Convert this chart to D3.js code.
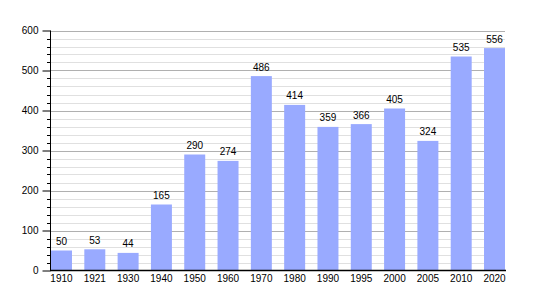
<!DOCTYPE html>
<html>
<head>
<meta charset="utf-8">
<script src="https://cdn.jsdelivr.net/npm/d3@7"></script>
<style>
  body { margin: 0; background: #fff; }
  text { font-family: "Liberation Sans", Arial, sans-serif; font-size: 10px; fill: #000; }
</style>
</head>
<body>
<div id="chart"></div>
<script>
var years = ['1910', '1921', '1930', '1940', '1950', '1960', '1970', '1980', '1990', '1995', '2000', '2005', '2010', '2020'];
var population = [50, 53, 44, 165, 290, 274, 486, 414, 359, 366, 405, 324, 535, 556];
var majorTicks = [0, 100, 200, 300, 400, 500, 600];

var width = 535, height = 300;
var plotLeft = 50, plotRight = 505, plotTop = 30.5, plotBottom = 270.5;

var svg = d3.select('#chart')
  .append('svg')
  .attr('width', width)
  .attr('height', height);

var x = d3.scaleBand()
  .domain(years)
  .range([plotLeft + 1, plotRight])
  .paddingInner(0.37)
  .paddingOuter(0);

var y = d3.scaleLinear()
  .domain([0, 600])
  .range([plotBottom, plotTop]);

var minorTicks = d3.range(0, 601, 20).filter(function (d) { return d % 100 !== 0; });

function py(d) { return Math.round(y(d)) + 0.5; }

// grid
svg.append('g')
  .selectAll('line')
  .data(minorTicks)
  .enter()
  .append('line')
  .attr('x1', plotLeft).attr('x2', plotRight)
  .attr('y1', py)
  .attr('y2', py)
  .style('stroke', '#e0e0e0');

svg.append('g')
  .selectAll('line')
  .data(majorTicks.slice(1))
  .enter()
  .append('line')
  .attr('x1', plotLeft).attr('x2', plotRight)
  .attr('y1', py)
  .attr('y2', py)
  .style('stroke', '#b0b0b0');

// bars
svg.append('g')
  .selectAll('rect')
  .data(population)
  .enter()
  .append('rect')
  .attr('x', function (d, i) { return x(years[i]); })
  .attr('width', x.bandwidth())
  .attr('y', function (d) { return y(d); })
  .attr('height', function (d) { return y(0) - y(d); })
  .style('fill', '#99aaff');

// value labels
svg.append('g')
  .selectAll('text')
  .data(population)
  .enter()
  .append('text')
  .attr('x', function (d, i) { return x(years[i]) + x.bandwidth() / 2; })
  .attr('y', function (d) { return y(d) - 5.5; })
  .attr('text-anchor', 'middle')
  .text(function (d) { return d; });

// y axis
var yAxis = d3.axisLeft(y)
  .tickValues(majorTicks)
  .tickSize(8)
  .tickPadding(4)
  .tickFormat(d3.format('d'));

var gy = svg.append('g')
  .attr('transform', 'translate(' + (plotLeft + 0.5) + ',0)')
  .call(yAxis);
gy.select('.domain').remove();
gy.selectAll('.tick line').style('stroke', '#000');
gy.selectAll('.tick text').style('font-size', '10px').style('font-family', '"Liberation Sans", Arial, sans-serif');

svg.append('g')
  .selectAll('line')
  .data(minorTicks)
  .enter()
  .append('line')
  .attr('x1', plotLeft - 3).attr('x2', plotLeft)
  .attr('y1', py)
  .attr('y2', py)
  .style('stroke', '#000');

svg.append('line')
  .attr('x1', plotLeft + 0.5).attr('x2', plotLeft + 0.5)
  .attr('y1', plotTop).attr('y2', plotBottom + 0.5)
  .style('stroke', '#000');

// x axis
var xAxis = d3.axisBottom(x)
  .tickSize(0)
  .tickPadding(5);

var gx = svg.append('g')
  .attr('transform', 'translate(0,' + (plotBottom - 0.5) + ')')
  .call(xAxis);
gx.select('.domain').remove();
gx.selectAll('.tick text').style('font-size', '10px').style('font-family', '"Liberation Sans", Arial, sans-serif');

svg.append('line')
  .attr('x1', plotLeft).attr('x2', plotRight + 1)
  .attr('y1', plotBottom).attr('y2', plotBottom)
  .style('stroke', '#000')
  .style('stroke-width', 1.5);
</script>
</body>
</html>
